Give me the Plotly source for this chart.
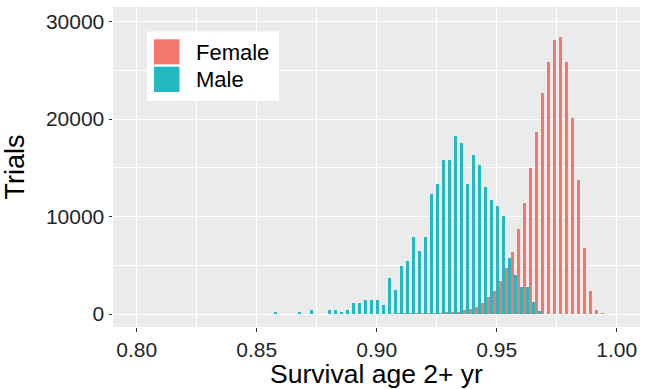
import plotly.graph_objects as go

# Bin centres (survival, binwidth 0.0025)
bin_centers = [0.8585, 0.8610, 0.8635, 0.8660, 0.8685, 0.8710, 0.8735, 0.8760, 0.8785, 0.8810,
               0.8835, 0.8860, 0.8885, 0.8910, 0.8935, 0.8960, 0.8985, 0.9010, 0.9035, 0.9060,
               0.9085, 0.9110, 0.9135, 0.9160, 0.9185, 0.9210, 0.9235, 0.9260, 0.9285, 0.9310,
               0.9335, 0.9360, 0.9385, 0.9410, 0.9435, 0.9460, 0.9485, 0.9510, 0.9535, 0.9560,
               0.9585, 0.9610, 0.9635, 0.9660, 0.9685, 0.9710, 0.9735, 0.9760, 0.9785, 0.9810,
               0.9835, 0.9860, 0.9885, 0.9910, 0.9935]

male_counts = [200, 0, 0, 0, 200, 0, 440, 0, 0, 440,
               440, 200, 440, 1160, 1160, 1460, 1460, 1460, 950, 3720,
               2500, 4970, 5460, 7950, 6440, 7950, 12280, 13310, 15810, 15810,
               18320, 17560, 13310, 16330, 15280, 13050, 11750, 11060, 10030, 5780,
               4010, 2780, 2780, 1230, 260, 0, 0, 0, 0, 0,
               0, 0, 0, 0, 0]

female_counts = [0, 0, 0, 0, 0, 0, 0, 0, 0, 0,
                 0, 0, 0, 0, 0, 0, 0, 0, 0, 0,
                 10, 15, 20, 30, 40, 50, 70, 100, 140, 170,
                 240, 380, 550, 750, 1170, 1715, 2400, 3360, 4730, 6380,
                 8710, 11420, 15020, 18690, 22640, 25860, 28160, 28400, 25830, 20070,
                 13720, 6790, 2330, 380, 70]

x_ticks = [0.80, 0.85, 0.90, 0.95, 1.00]
x_ticklabels = ["0.80", "0.85", "0.90", "0.95", "1.00"]
y_ticks = [0, 10000, 20000, 30000]
y_ticklabels = ["0", "10000", "20000", "30000"]

groups = ["Female", "Male"]
colors = {"Female": "#F2776E", "Male": "#22B9C1"}

FONT = "Liberation Sans, Arial, sans-serif"

fig = go.Figure()
fig.add_trace(go.Bar(x=bin_centers, y=male_counts, name="Male",
                     marker=dict(color=colors["Male"], line=dict(width=0)),
                     showlegend=False))
fig.add_trace(go.Bar(x=bin_centers, y=female_counts, name="Female",
                     marker=dict(color=colors["Female"], line=dict(width=0)),
                     showlegend=False))

W, H = 648, 389
L, R, T, B = 113, 8, 7, 62
pw, ph = W - L - R, H - T - B

def px_x(p):
    return (p - L) / pw

def px_y(p):
    return (H - B - p) / ph

shapes = [
    dict(type="rect", xref="paper", yref="paper",
         x0=px_x(147), x1=px_x(279), y0=px_y(101), y1=px_y(31.5),
         fillcolor="white", line=dict(width=0), layer="above"),
]
annotations = []
key_rows = [("Female", 39.3, 64.3, 52.5), ("Male", 66.7, 92.0, 79.5)]
for name, top, bot, cy in key_rows:
    shapes.append(dict(type="rect", xref="paper", yref="paper",
                       x0=px_x(154), x1=px_x(179.5), y0=px_y(bot), y1=px_y(top),
                       fillcolor=colors[name], line=dict(width=0), layer="above"))
    annotations.append(dict(text=name, xref="paper", yref="paper",
                            x=px_x(194), y=px_y(cy), xanchor="left", yanchor="middle",
                            showarrow=False, font=dict(size=22, color="black", family=FONT)))

fig.update_layout(
    width=W, height=H,
    margin=dict(l=L, r=R, t=T, b=B, autoexpand=False),
    paper_bgcolor="white",
    plot_bgcolor="#EBEBEB",
    barmode="group",
    bargap=0,
    bargroupgap=0,
    font=dict(family=FONT, color="black"),
    showlegend=False,
    shapes=shapes,
    annotations=annotations,
)

fig.update_xaxes(
    range=[0.79013, 1.00971],
    tickvals=x_ticks, ticktext=x_ticklabels,
    ticks="outside", ticklen=3.5, tickwidth=1.1, tickcolor="#333333",
    tickfont=dict(size=21, color="#1e2626", family=FONT),
    showgrid=True, gridcolor="white", gridwidth=1.3,
    minor=dict(tickvals=[0.775, 0.825, 0.875, 0.925, 0.975, 1.025], showgrid=True,
               gridcolor="white", gridwidth=0.6, ticklen=0),
    zeroline=False, showline=False,
    title=dict(text="Survival age 2+ yr", font=dict(size=26.5, color="black", family=FONT),
               standoff=1),
    automargin=False,
)
fig.update_yaxes(
    range=[-1334, 31510],
    tickvals=y_ticks, ticktext=y_ticklabels,
    ticks="outside", ticklen=3.5, tickwidth=1.1, tickcolor="#333333",
    tickfont=dict(size=21, color="#1e2626", family=FONT),
    showgrid=True, gridcolor="white", gridwidth=1.3,
    minor=dict(tickvals=[5000, 15000, 25000], showgrid=True,
               gridcolor="white", gridwidth=0.6, ticklen=0),
    zeroline=False, showline=False,
    title=dict(text="Trials", font=dict(size=27, color="black", family=FONT),
               standoff=14),
    automargin=False,
)

fig.write_html("out.html")
